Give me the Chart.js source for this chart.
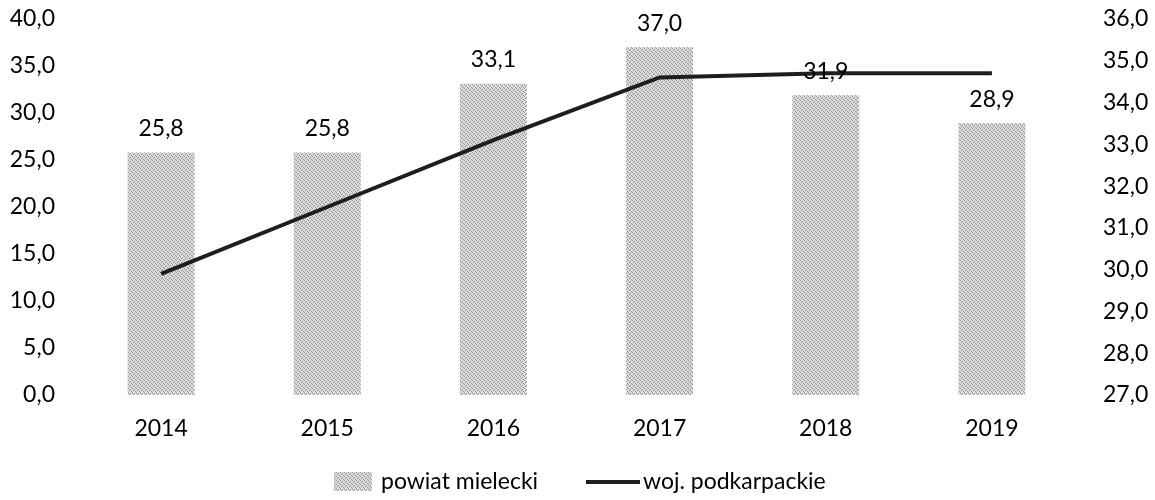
<!DOCTYPE html>
<html>
<head>
<meta charset="utf-8">
<script src="https://cdn.jsdelivr.net/npm/chart.js@4.4.1/dist/chart.umd.min.js"></script>
<style>
  html, body { margin: 0; padding: 0; background: #fff; }
  #wrap { width: 1155px; height: 500px; }
</style>
</head>
<body>
<div id="wrap"><canvas id="chart" width="1155" height="500"></canvas></div>
<script>
// Values
const years = ['2014', '2015', '2016', '2017', '2018', '2019'];
const powiatValues = [25.8, 25.8, 33.1, 37.0, 31.9, 28.9];
const wojValues = [29.9, 31.5, 33.1, 34.6, 34.7, 34.7];
const seriesNames = ['powiat mielecki', 'woj. podkarpackie'];
const leftAxis = [0, 40, 5];   // min, max, step
const rightAxis = [27, 36, 1]; // min, max, step

const FONT = 'Lato';
const FONT_SIZE = 23;
Chart.defaults.font.family = FONT;
Chart.defaults.font.size = FONT_SIZE;
Chart.defaults.color = '#000';

function fmt(v) {
    return Number(v).toFixed(1).replace('.', ',');
}

// grey stipple fill like the scanned bars
function makeStipple() {
    const c = document.createElement('canvas');
    c.width = 4;
    c.height = 4;
    const g = c.getContext('2d');
    g.fillStyle = '#d6d6d6';
    g.fillRect(0, 0, 4, 4);
    g.fillStyle = '#909090';
    [[0, 0], [2, 1], [1, 2], [3, 3]].forEach(p => g.fillRect(p[0], p[1], 1, 1));
    g.fillStyle = '#f0f0f0';
    [[1, 0], [3, 2]].forEach(p => g.fillRect(p[0], p[1], 1, 1));
    return g.createPattern(c, 'repeat');
}
const stipple = makeStipple();

// fixed axis box sizes so the plot area sits where the reference has it
function fixVertical(width) {
    return s => {
        s.width = width;
        s.paddingTop = 19;
        s.paddingBottom = 0;
    };
}

// value labels above the bars (bar dataset is index 1)
const barLabels = {
    id: 'barLabels',
    afterDatasetsDraw(chart) {
        const ctx = chart.ctx;
        const meta = chart.getDatasetMeta(1);
        ctx.save();
        ctx.font = FONT_SIZE + 'px ' + FONT;
        ctx.fillStyle = '#000';
        ctx.textAlign = 'center';
        ctx.textBaseline = 'middle';
        meta.data.forEach((bar, i) => {
            ctx.fillText(fmt(powiatValues[i]), bar.x, bar.y - 24);
        });
        ctx.restore();
    }
};

// legend drawn under the axis
const bottomLegend = {
    id: 'bottomLegend',
    afterDraw(chart) {
        const ctx = chart.ctx;
        const y = 482;
        ctx.save();
        ctx.font = FONT_SIZE + 'px ' + FONT;
        ctx.fillStyle = stipple;
        ctx.fillRect(334, 472, 38, 19);
        ctx.strokeStyle = '#1e1e1e';
        ctx.lineWidth = 4;
        ctx.beginPath();
        ctx.moveTo(586, y);
        ctx.lineTo(640, y);
        ctx.stroke();
        ctx.fillStyle = '#000';
        ctx.textBaseline = 'middle';
        ctx.textAlign = 'left';
        ctx.fillText(seriesNames[0], 381, y);
        ctx.fillText(seriesNames[1], 643, y);
        ctx.restore();
    }
};

new Chart(document.getElementById('chart').getContext('2d'), {
    type: 'bar',
    data: {
        labels: years,
        datasets: [
            {
                type: 'line',
                label: seriesNames[1],
                data: wojValues,
                yAxisID: 'y1',
                borderColor: '#1e1e1e',
                borderWidth: 4,
                pointRadius: 0,
                tension: 0,
                order: 0
            },
            {
                label: seriesNames[0],
                data: powiatValues,
                yAxisID: 'y',
                backgroundColor: stipple,
                borderWidth: 0,
                categoryPercentage: 1,
                barPercentage: 0.403,
                order: 1
            }
        ]
    },
    options: {
        responsive: false,
        animation: false,
        layout: { padding: 0 },
        plugins: {
            legend: { display: false },
            tooltip: { enabled: false }
        },
        scales: {
            x: {
                grid: { display: false, drawTicks: false },
                border: { display: false },
                ticks: { padding: 20 },
                afterFit: s => { s.height = 105; }
            },
            y: {
                position: 'left',
                min: leftAxis[0],
                max: leftAxis[1],
                grid: { display: false, drawTicks: false },
                border: { display: false },
                ticks: { stepSize: leftAxis[2], padding: 23, callback: v => fmt(v) },
                afterFit: fixVertical(78)
            },
            y1: {
                position: 'right',
                min: rightAxis[0],
                max: rightAxis[1],
                grid: { display: false, drawTicks: false },
                border: { display: false },
                ticks: { stepSize: rightAxis[2], padding: 28, callback: v => fmt(v) },
                afterFit: fixVertical(80)
            }
        }
    },
    plugins: [barLabels, bottomLegend]
});
</script>
</body>
</html>
